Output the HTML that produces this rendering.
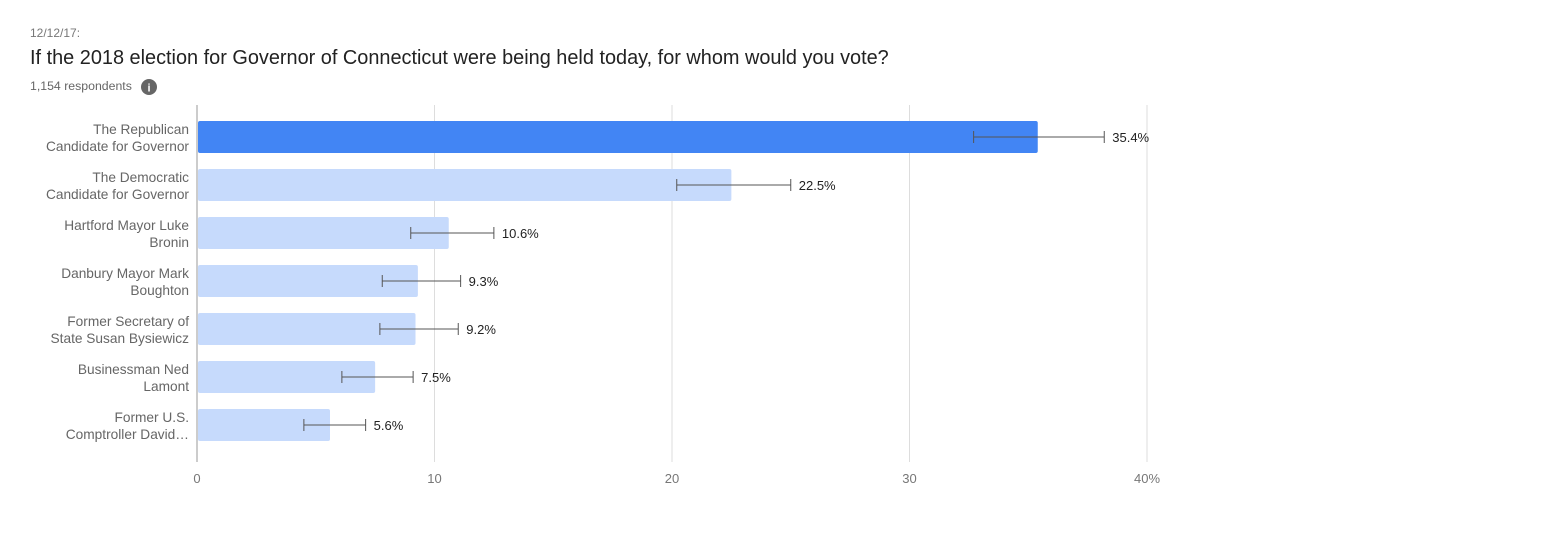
<!DOCTYPE html>
<html><head><meta charset="utf-8"><style>
body{margin:0;background:#fff;width:1557px;height:554px;overflow:hidden;font-family:"Liberation Sans",sans-serif;}
</style></head><body>
<svg width="1557" height="554" style="position:absolute;left:0;top:0">
<text x="30" y="37" font-size="12" fill="#777">12/12/17:</text>
<text x="30" y="64" font-size="19.9" fill="#222">If the 2018 election for Governor of Connecticut were being held today, for whom would you vote?</text>
<text x="30" y="90" font-size="12.3" fill="#666">1,154 respondents</text>
<g><circle cx="149" cy="87" r="8" fill="#666"/><text x="149" y="91.5" font-size="11" font-weight="bold" fill="#fff" text-anchor="middle">i</text></g>
<g id="grid"></g><g id="bars"></g>
</svg>
<script>
const categories=[["The Republican","Candidate for Governor"],["The Democratic","Candidate for Governor"],["Hartford Mayor Luke","Bronin"],["Danbury Mayor Mark","Boughton"],["Former Secretary of","State Susan Bysiewicz"],["Businessman Ned","Lamont"],["Former U.S.","Comptroller David…"]];
const values=[35.4,22.5,10.6,9.3,9.2,7.5,5.6];
const errLow=[32.7,20.2,9.0,7.8,7.7,6.1,4.5];
const errHigh=[38.2,25.0,12.5,11.1,11.0,9.1,7.1];
const ticks=[0,10,20,30,40];
const tickLabels=["0","10","20","30","40%"];
const NS="http://www.w3.org/2000/svg";
const x=v=>197+v*23.75;
const yc=i=>137+i*48;
function mk(t,a,p){const e=document.createElementNS(NS,t);for(const k in a)e.setAttribute(k,a[k]);p.appendChild(e);return e;}
const g=document.getElementById('grid'),b=document.getElementById('bars');
ticks.forEach((t,i)=>{
 const l=mk('line',{x1:x(t),x2:x(t),y1:105,y2:462,stroke:i==0?'#999':'#ddd','stroke-width':1},g);
 
 
 const tx=mk('text',{x:x(t),y:483,'font-size':13,fill:'#777','text-anchor':'middle'},g);
 tx.textContent=tickLabels[i];
 
 
});
values.forEach((v,i)=>{
 const r=mk('rect',{x:x(0)+1,y:yc(i)-16,width:x(v)-x(0)-1,height:32,rx:2,fill:i==0?'#4285f4':'#c6dafc'},b);
 
 
 const eg=mk('g',{stroke:'#555','stroke-width':1},b);
 
 
 mk('line',{x1:x(errLow[i]),x2:x(errHigh[i]),y1:yc(i),y2:yc(i)},eg);
 mk('line',{x1:x(errLow[i]),x2:x(errLow[i]),y1:yc(i)-6,y2:yc(i)+6},eg);
 mk('line',{x1:x(errHigh[i]),x2:x(errHigh[i]),y1:yc(i)-6,y2:yc(i)+6},eg);
 const vl=mk('text',{x:x(errHigh[i])+8,y:yc(i)+5,'font-size':13,fill:'#222'},b);
 vl.textContent=v.toFixed(1)+'%';
 
 
 const cl=mk('text',{x:189,y:yc(i)-3,'font-size':13.7,fill:'#666','text-anchor':'end'},b);
 
 
 categories[i].forEach((s,j)=>{const ts=mk('tspan',{x:189,dy:j?17:0},cl);ts.textContent=s;});
});
</script>
</body></html>
